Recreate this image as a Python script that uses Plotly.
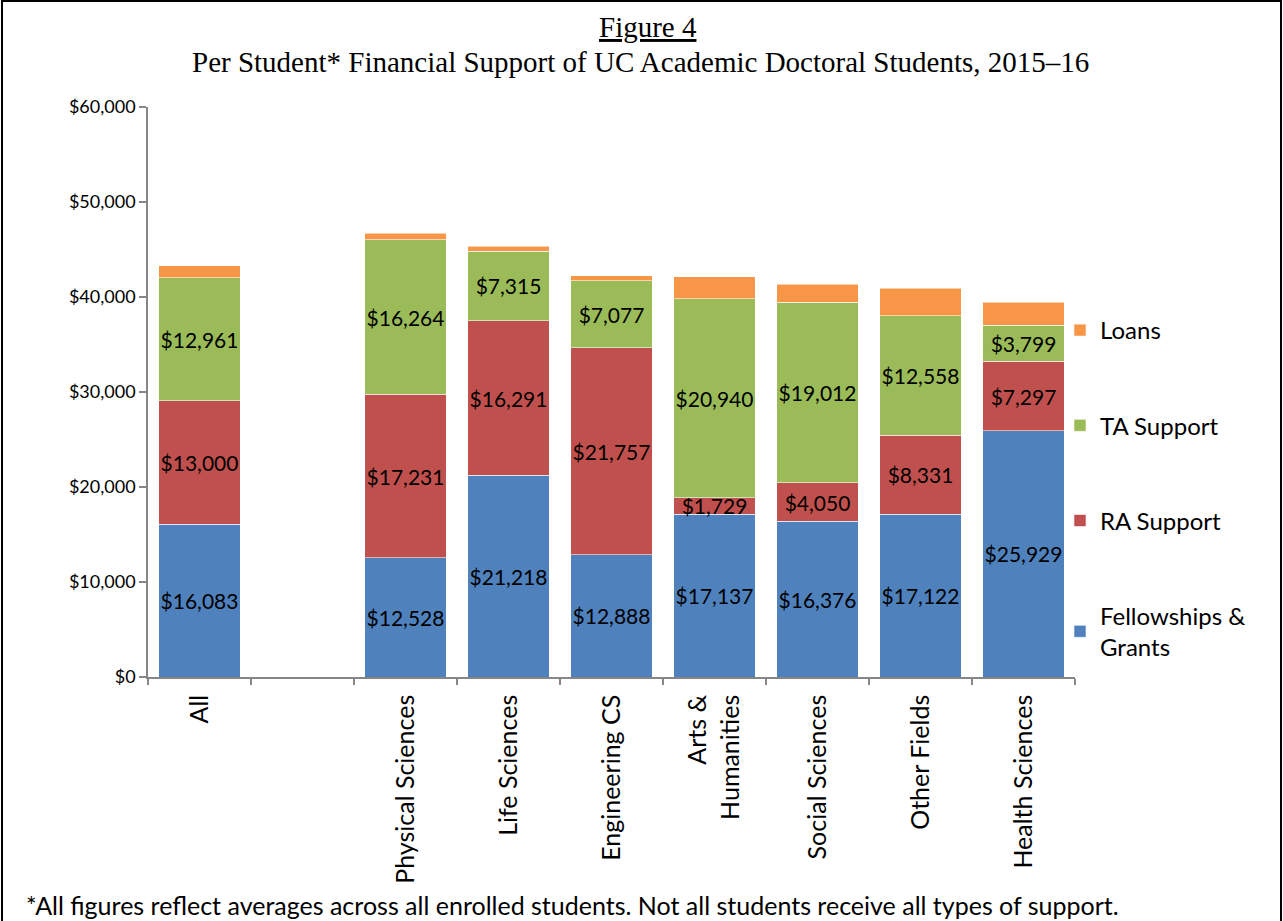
import plotly.graph_objects as go

# Fields of study (blank slot separates the overall bar from the fields)
categories = ["All", " ", "Physical Sciences", "Life Sciences", "Engineering CS",
              "Arts &<br>Humanities", "Social Sciences", "Other Fields", "Health Sciences"]

# Average support per student, by source (USD)
fellowships = [16083, None, 12528, 21218, 12888, 17137, 16376, 17122, 25929]
ra_support = [13000, None, 17231, 16291, 21757, 1729, 4050, 8331, 7297]
ta_support = [12961, None, 16264, 7315, 7077, 20940, 19012, 12558, 3799]
loans = [1250, None, 690, 540, 490, 2300, 1930, 2900, 2410]

W, H = 1283, 921
ML, MR, MT, MB = 148, 208, 107, 244
PW, PH = W - ML - MR, H - MT - MB

SANS = "Lato"
SERIF = "Liberation Serif"

# name, values, colour, show value labels, legend rank (Loans listed first)
series = [
    ("Fellowships &<br>Grants", fellowships, "#4F81BD", True, 4),
    ("RA Support", ra_support, "#C0504D", True, 3),
    ("TA Support", ta_support, "#9BBB59", True, 2),
    ("Loans", loans, "#F79646", False, 1),
]

fig = go.Figure()
for i, (name, vals, color, labelled, rank) in enumerate(series):
    fig.add_trace(go.Bar(
        x=categories, y=vals, name=name, legendgroup=f"g{i}", legendrank=rank,
        marker=dict(color=color, line=dict(color="rgba(255,255,255,0.7)", width=0.8)),
        texttemplate="$%{y:,.0f}" if labelled else None,
        textposition="inside" if labelled else "none",
        insidetextanchor="middle",
        textangle=0,
        constraintext="none",
        textfont=dict(family=SANS, size=21, color="black"),
        hoverinfo="skip",
    ))

def px_x(px):
    return (px - ML) / PW

def px_y(py):
    return (H - MB - py) / PH

fig.update_layout(
    width=W, height=H,
    margin=dict(l=ML, r=MR, t=MT, b=MB, autoexpand=False),
    barmode="stack", bargap=0.21,
    plot_bgcolor="white", paper_bgcolor="white",
    font=dict(family=SANS, size=17, color="black"),
    uniformtext=dict(minsize=21, mode="show"),
    showlegend=True,
    legend=dict(
        x=px_x(1060), xanchor="left", y=px_y(308), yanchor="top",
        traceorder="grouped", tracegroupgap=61,
        font=dict(family=SANS, size=24, color="black"),
        bgcolor="rgba(0,0,0,0)",
        itemclick=False, itemdoubleclick=False,
    ),
    xaxis=dict(
        type="category", tickson="boundaries", ticks="outside", ticklen=6,
        tickcolor="#868686", tickwidth=1.5, tickangle=-90,
        ticklabelstandoff=6,
        showline=True, linecolor="#868686", linewidth=1.5,
        tickfont=dict(family=SANS, size=25, color="black"),
        showgrid=False, fixedrange=True,
    ),
    yaxis=dict(
        range=[0, 60000], dtick=10000, tickprefix="$", tickformat=",",
        ticks="outside", ticklen=7, tickcolor="#868686", tickwidth=1.5,
        showline=True, linecolor="#868686", linewidth=1.5,
        showgrid=False, zeroline=False,
        tickfont=dict(family=SANS, size=18, color="black"),
        fixedrange=True,
    ),
    annotations=[
        dict(text="<u>Figure 4</u>", xref="paper", yref="paper",
             x=px_x(648), y=px_y(27), xanchor="center", yanchor="middle",
             showarrow=False, font=dict(family=SERIF, size=29, color="black")),
        dict(text="Per Student* Financial Support of UC Academic Doctoral Students, 2015\u201316",
             xref="paper", yref="paper",
             x=px_x(640), y=px_y(62), xanchor="center", yanchor="middle",
             showarrow=False, font=dict(family=SERIF, size=29, color="black")),
        dict(text="*All figures reflect averages across all enrolled students. Not all students receive all types of support.",
             xref="paper", yref="paper",
             x=px_x(24), y=px_y(905), xanchor="left", yanchor="middle",
             showarrow=False, font=dict(family=SANS, size=25, color="black")),
    ],
    shapes=[
        dict(type="rect", xref="paper", yref="paper",
             x0=px_x(2), x1=px_x(1281), y0=px_y(940), y1=px_y(1),
             line=dict(color="black", width=2), fillcolor="rgba(0,0,0,0)", layer="below"),
    ],
)

fig.write_html("out.html")
